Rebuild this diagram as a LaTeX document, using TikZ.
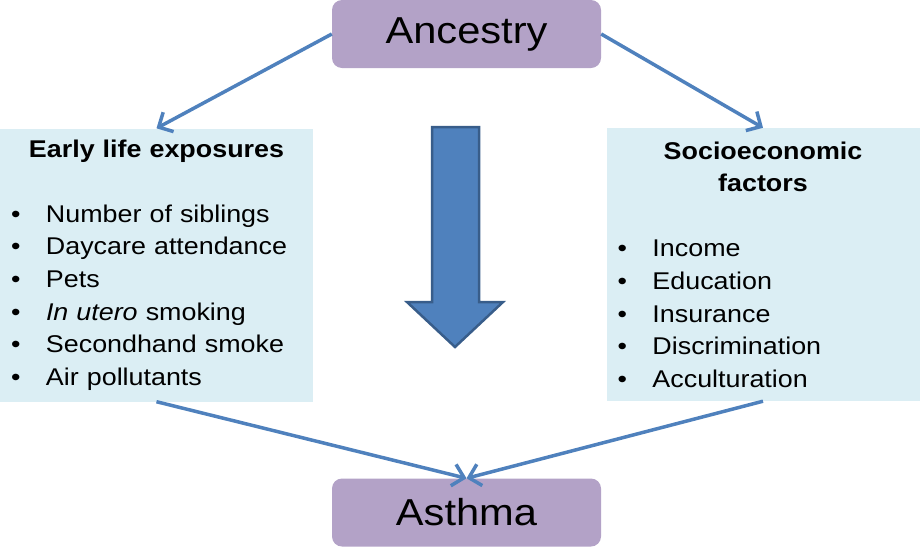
\documentclass[tikz,border=0pt]{standalone}
\usepackage{fontspec}
\setmainfont{Liberation Sans}[FakeStretch=1.11]
\usetikzlibrary{arrows.meta}
\definecolor{lilac}{HTML}{B3A2C7}
\definecolor{paleaqua}{HTML}{DBEEF4}
\definecolor{linkblue}{HTML}{4F81BD}
\definecolor{arrowedge}{HTML}{385D8A}
\tikzset{x=1pt, y=-1pt,
  mainbox/.style={fill=lilac, rounded corners=10pt, minimum width=269pt, minimum height=68pt, inner sep=0pt, font=\fontsize{37.5}{40}\selectfont},
  factorbox/.style={fill=paleaqua, text width=291pt, inner xsep=11pt, inner ysep=0pt, minimum height=273pt, align=left, font=\fontsize{24.2}{32.6}\selectfont},
  link/.style={draw=linkblue, line width=3.5pt, -{Straight Barb[length=11pt,width=22pt]}}}
\newcommand{\factorhead}[1]{\makebox[291pt][c]{\bfseries #1}}
\newcommand{\factoritem}{\makebox[35pt][l]{\textbullet}}

\begin{document}
\begin{tikzpicture}
\useasboundingbox (0,0) rectangle (920,547);
\node(anc) [mainbox] at (466.5,34) {Ancestry};
\node(asth) [mainbox] at (466.5,512.5) {Asthma};
\node(early) [factorbox] at (156.5,265) {\factorhead{Early life exposures}\\[32.6pt]
\factoritem Number of siblings\\
\factoritem Daycare attendance\\
\factoritem Pets\\
\factoritem \textit{In utero} smoking\\
\factoritem Secondhand smoke\\
\factoritem Air pollutants};
\node(socio) [factorbox] at (763,264.5) {\factorhead{Socioeconomic}\\
\factorhead{factors}\\[32.6pt]
\factoritem Income\\
\factoritem Education\\
\factoritem Insurance\\
\factoritem Discrimination\\
\factoritem Acculturation};
\draw[fill=linkblue, draw=arrowedge, line width=2.5pt] (432,127) -- (479,127) -- (479,302) -- (503,302) -- (455,347) -- (407,302) -- (432,302) -- cycle;
\draw[link] (anc.west) to (early.north);
\draw[link] (anc.east) to (socio.north);
\draw[link] (early.south) to (asth.north);
\draw[link] (socio.south) to (asth.north);
\end{tikzpicture}
\end{document}
